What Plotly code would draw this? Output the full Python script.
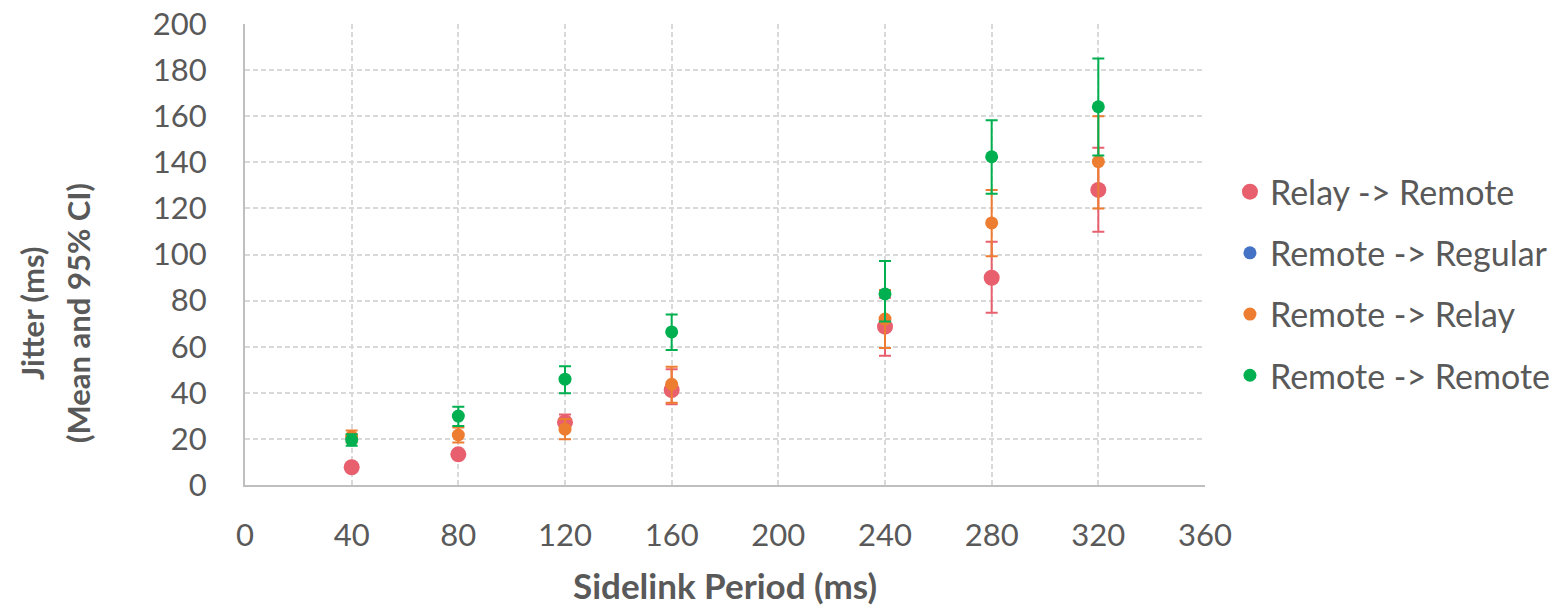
import plotly.graph_objects as go

periods = [40, 80, 120, 160, 240, 280, 320]

names = ["Relay -> Remote", "Remote -> Regular", "Remote -> Relay", "Remote -> Remote"]
colors = ["#E8606E", "#4472C4", "#ED7D31", "#00B050"]
sizes = [16, 13, 13, 13]

relay_remote = [7.7, 13.3, 27.2, 41.2, 68.7, 89.9, 128.0]
relay_remote_up = [1.0, 1.5, 3.4, 9.0, 12.5, 15.6, 18.3]
relay_remote_dn = [1.0, 1.5, 3.5, 6.2, 12.6, 15.2, 18.1]

remote_regular = [None] * 7
remote_regular_up = [0] * 7
remote_regular_dn = [0] * 7

remote_relay = [21.0, 21.7, 24.2, 43.7, 72.0, 113.7, 140.3]
remote_relay_up = [2.6, 3.3, 4.4, 7.6, 12.6, 14.3, 19.7]
remote_relay_dn = [2.6, 3.3, 4.4, 8.0, 12.6, 14.5, 20.3]

remote_remote = [19.5, 29.9, 45.9, 66.4, 82.9, 142.4, 164.1]
remote_remote_up = [2.5, 4.1, 5.6, 7.6, 14.3, 15.8, 20.9]
remote_remote_dn = [2.5, 4.3, 6.1, 7.8, 12.0, 16.0, 21.1]

series = [
    (relay_remote, relay_remote_up, relay_remote_dn),
    (remote_regular, remote_regular_up, remote_regular_dn),
    (remote_relay, remote_relay_up, remote_relay_dn),
    (remote_remote, remote_remote_up, remote_remote_dn),
]

FONT = "Lato"
GREY = "#595959"

fig = go.Figure()
for i, (vals, up, dn) in enumerate(series):
    fig.add_trace(go.Scatter(
        x=periods, y=vals, name=names[i], mode="markers",
        legendgroup=names[i],
        marker=dict(color=colors[i], size=sizes[i]),
        error_y=dict(type="data", symmetric=False, array=up, arrayminus=dn,
                     color=colors[i], thickness=2, width=6),
    ))

fig.update_layout(
    width=1562, height=605,
    margin=dict(l=245, r=357, t=24, b=120, autoexpand=False),
    paper_bgcolor="white", plot_bgcolor="white",
    font=dict(family=FONT, color=GREY, size=31),
    showlegend=True,
    legend=dict(x=1.026, xanchor="left", y=0.437, yanchor="middle",
                font=dict(family=FONT, size=34, color=GREY),
                tracegroupgap=14, itemsizing="trace",
                bgcolor="rgba(0,0,0,0)"),
    annotations=[
        dict(text="<b>Sidelink Period (ms)</b>", xref="paper", yref="paper",
             x=0.5, y=-0.217, xanchor="center", yanchor="middle",
             showarrow=False, font=dict(family=FONT, size=35, color=GREY)),
        dict(text="<b>Jitter (ms)</b>", xref="paper", yref="paper",
             x=-0.2219, y=0.373, xanchor="center", yanchor="middle", textangle=-90,
             showarrow=False, font=dict(family=FONT, size=31, color=GREY)),
        dict(text="<b>(Mean and 95% CI)</b>", xref="paper", yref="paper",
             x=-0.174, y=0.373, xanchor="center", yanchor="middle", textangle=-90,
             showarrow=False, font=dict(family=FONT, size=31, color=GREY)),
    ],
)

fig.update_xaxes(
    range=[0, 360], dtick=40, tick0=0,
    showgrid=True, gridcolor="#D9D9D9", gridwidth=1.5, griddash="5px,3px",
    showline=True, linecolor="#BFBFBF", linewidth=2,
    zeroline=False, ticks="outside", ticklen=22, tickcolor="rgba(0,0,0,0)",
    tickfont=dict(family=FONT, size=31, color=GREY),
)
fig.update_yaxes(
    range=[0, 200], dtick=20, tick0=0,
    showgrid=True, gridcolor="#D9D9D9", gridwidth=1.5, griddash="5px,3px",
    showline=True, linecolor="#BFBFBF", linewidth=2,
    zeroline=False, ticks="outside", ticklen=30, tickcolor="rgba(0,0,0,0)",
    tickfont=dict(family=FONT, size=31, color=GREY),
)

fig.write_html("out.html")
